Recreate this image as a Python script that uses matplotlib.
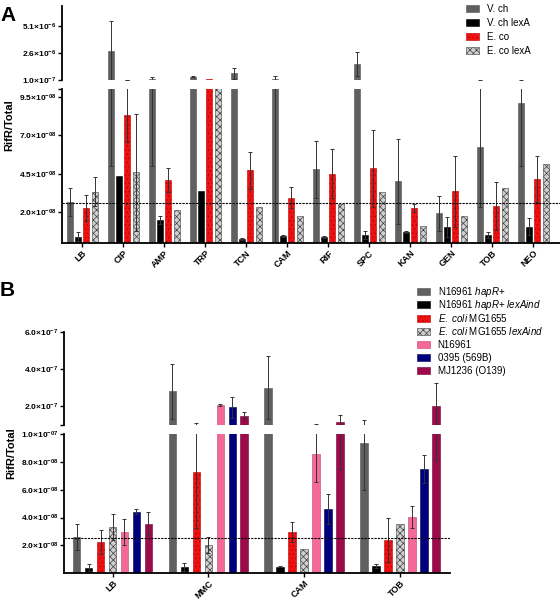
import matplotlib
matplotlib.use('Agg')
import matplotlib.pyplot as plt
import numpy as np
from matplotlib.patches import Patch, Rectangle

plt.rcParams['font.family'] = ['Liberation Sans', 'DejaVu Sans']
plt.rcParams['mathtext.fontset'] = 'custom'
plt.rcParams['mathtext.rm'] = 'Liberation Sans'
plt.rcParams['mathtext.it'] = 'Liberation Sans:italic'
plt.rcParams['mathtext.bf'] = 'Liberation Sans:bold'
plt.rcParams['hatch.linewidth'] = 0.5

# ---- panel A data ----
drugs_a = ['LB', 'CIP', 'AMP', 'TRP', 'TCN', 'CAM', 'RIF', 'SPC', 'KAN', 'GEN', 'TOB', 'NEO']
vch = [2.64e-8, 2.83e-6, 2.2e-7, 4.1e-7, 7.3e-7, 2.2e-7, 4.78e-8, 1.6e-6, 4.0e-8, 1.93e-8, 6.21e-8, 9.09e-8]
vch_err = [0.9e-8, 2.78e-6, 1.7e-7, 0.3e-7, 5.3e-7, 2.3e-7, 1.84e-8, 1.1e-6, 2.75e-8, 1.12e-8, 3.9e-8, 4.1e-8]
vch_lexa = [0.41e-8, 4.35e-8, 1.51e-8, 3.4e-8, 0.26e-8, 0.47e-8, 0.39e-8, 0.5e-8, 0.71e-8, 1.04e-8, 0.52e-8, 1.06e-8]
vch_lexa_err = [0.28e-8, 0, 0.26e-8, 0, 0.05e-8, 0.05e-8, 0.05e-8, 0.26e-8, 0.05e-8, 0.65e-8, 0.17e-8, 0.56e-8]
eco = [2.25e-8, 8.33e-8, 4.09e-8, 2.2e-7, 4.72e-8, 2.94e-8, 4.5e-8, 4.85e-8, 2.29e-8, 3.35e-8, 2.4e-8, 4.15e-8]
eco_err = [0.85e-8, 1.75e-8, 0.8e-8, 0, 1.2e-8, 0.7e-8, 1.6e-8, 2.5e-8, 0.26e-8, 2.3e-8, 1.54e-8, 1.48e-8]
eco_lexa = [3.33e-8, 4.58e-8, 2.14e-8, 1.1e-7, 2.34e-8, 1.77e-8, 2.51e-8, 3.33e-8, 1.12e-8, 1.77e-8, 3.57e-8, 5.13e-8]
eco_lexa_err = [0.93e-8, 3.77e-8, 0, 0, 0, 0, 0, 0, 0, 0, 0, 0]
labels_a = ['V. ch', 'V. ch lexA', 'E. co', 'E. co lexA']
baseline_a = 2.6e-8

# ---- panel B data ----
conds_b = ['LB', 'MMC', 'CAM', 'TOB']
hapr = [2.63e-8, 2.8e-7, 3.0e-7, 9.35e-8]
hapr_err = [0.94e-8, 1.46e-7, 1.67e-7, 3.36e-8]
hapr_lex = [0.4e-8, 0.43e-8, 0.48e-8, 0.52e-8]
hapr_lex_err = [0.27e-8, 0.29e-8, 0.03e-8, 0.13e-8]
mg = [2.23e-8, 7.24e-8, 2.95e-8, 2.39e-8]
mg_err = [0.86e-8, 4.0e-8, 0.72e-8, 1.56e-8]
mg_lex = [3.33e-8, 2.01e-8, 1.75e-8, 3.57e-8]
mg_lex_err = [0.96e-8, 0.58e-8, 0, 0]
n16961 = [2.99e-8, 2.05e-7, 8.58e-8, 4.05e-8]
n16961_err = [0.94e-8, 0.05e-7, 2.06e-8, 0.81e-8]
o395 = [4.43e-8, 1.96e-7, 4.6e-8, 7.5e-8]
o395_err = [0.17e-8, 0.56e-7, 1.08e-8, 0.99e-8]
mj1236 = [3.57e-8, 1.5e-7, 1.15e-7, 2.03e-7]
mj1236_err = [0.82e-8, 0.2e-7, 0.4e-7, 1.22e-7]
labels_b = [r'N16961 $\mathit{hapR}$+', r'N16961 $\mathit{hapR}$+ $\mathit{lexAind}$',
            r'$\mathit{E.\ coli}$ MG1655', r'$\mathit{E.\ coli}$ MG1655 $\mathit{lexAind}$',
            'N16961', '0395 (569B)', 'MJ1236 (O139)']
baseline_b = 2.5e-8

# bar styles
st_gray = dict(facecolor='#606060', edgecolor='#505050', linewidth=0.4)
st_black = dict(facecolor='#000000', edgecolor='#000000', linewidth=0.4)
st_red = dict(facecolor='#ee1111', edgecolor='#c00000', hatch='....', linewidth=0.4)
st_check = dict(facecolor='#d0d0d0', edgecolor='#404040', hatch='xxxxx', linewidth=0.4)
st_pink = dict(facecolor='#f4689a', edgecolor='#c04070', linewidth=0.4)
st_navy = dict(facecolor='#00007f', edgecolor='#000050', linewidth=0.4)
st_maroon = dict(facecolor='#9c0a4c', edgecolor='#700030', linewidth=0.4)

ekw = dict(fmt='none', ecolor='#333333', elinewidth=0.7, capsize=1.5, capthick=0.7)


def fmt(m, e):
    return r'$\mathbf{' + m + r'{\times}10^{' + e + r'}}$'


def draw_bars(ax, x, vals, errs, width, style, lim=None):
    x = np.asarray(x, float)
    v = np.asarray(vals, float)
    e = np.asarray(errs, float)
    if lim is None:
        show_bar = np.ones(len(v), bool)
        show_err = e > 0
    else:
        # upper (broken) segment: only what reaches above the break
        show_bar = v > lim
        show_err = (e > 0) & (v + e > lim)
    ax.bar(x[show_bar], v[show_bar], width, **style)
    if show_err.any():
        ax.errorbar(x[show_err], v[show_err], yerr=e[show_err], **ekw)


def style_axes(ax_top, ax_bot):
    for s in ['top', 'right', 'bottom']:
        ax_top.spines[s].set_visible(False)
    for s in ['top', 'right']:
        ax_bot.spines[s].set_visible(False)
    ax_top.spines['left'].set_linewidth(1.3)
    ax_bot.spines['left'].set_linewidth(1.3)
    ax_bot.spines['bottom'].set_linewidth(1.3)
    ax_top.tick_params(axis='x', bottom=False, labelbottom=False)
    for ax in (ax_top, ax_bot):
        ax.tick_params(axis='y', length=3, width=1, labelsize=6, pad=1)
    ax_bot.tick_params(axis='x', length=3, width=1, labelsize=6.5, pad=1)


fig = plt.figure(figsize=(5.6, 6.0), dpi=100)

# ---------------- panel A ----------------
axA_top = fig.add_axes([0.111, 0.8667, 0.889, 0.1233])
axA_bot = fig.add_axes([0.111, 0.595, 0.889, 0.2567])
xa = np.arange(len(drugs_a))
series_a = [(vch, vch_err, st_gray), (vch_lexa, vch_lexa_err, st_black),
            (eco, eco_err, st_red), (eco_lexa, eco_lexa_err, st_check)]
for i, (v, e, st) in enumerate(series_a):
    draw_bars(axA_top, xa + (i - 1.5) * 0.2, v, e, 0.146, st, lim=1e-7)
    draw_bars(axA_bot, xa + (i - 1.5) * 0.2, v, e, 0.146, st)
for ax in (axA_top, axA_bot):
    ax.set_xlim(-0.49, 11.65)
axA_top.set_ylim(1e-7, 7.0e-6)
axA_bot.set_ylim(0, 1e-7)
axA_top.set_yticks([1e-7, 2.6e-6, 5.1e-6])
axA_top.set_yticklabels([fmt('1.0', '-7'), fmt('2.6', '-6'), fmt('5.1', '-6')])
axA_bot.set_yticks([2e-8, 4.5e-8, 7e-8, 9.5e-8, 1e-7])
axA_bot.set_yticklabels([fmt('2.0', '-08'), fmt('4.5', '-08'), fmt('7.0', '-08'), fmt('9.5', '-08'), ''])
axA_bot.axhline(baseline_a, color='black', ls=(0, (2, 1)), lw=0.8)
style_axes(axA_top, axA_bot)
axA_bot.set_xticks(xa)
axA_bot.set_xticklabels(drugs_a, rotation=45, ha='right', rotation_mode='anchor', fontweight='bold')

handles_a = [Patch(**st) for _, _, st in series_a]
fig.legend(handles_a, labels_a, loc='upper left', bbox_to_anchor=(0.816, 1.008), frameon=False,
           fontsize=7, handlelength=1.35, handleheight=0.72, labelspacing=0.4, handletextpad=0.8)
fig.text(0.016, 1 - 125 / 600, 'RifR/Total', rotation=90, ha='center', va='center', fontsize=8, fontweight='bold')
fig.text(0.0, 0.99, 'A', fontsize=15, fontweight='bold', ha='left', va='top')

# ---------------- panel B ----------------
axB_top = fig.add_axes([0.114, 0.2917, 0.689, 0.1555])
axB_bot = fig.add_axes([0.114, 0.0445, 0.689, 0.2322])
xb = np.arange(len(conds_b))
series_b = [(hapr, hapr_err, st_gray), (hapr_lex, hapr_lex_err, st_black),
            (mg, mg_err, st_red), (mg_lex, mg_lex_err, st_check),
            (n16961, n16961_err, st_pink), (o395, o395_err, st_navy),
            (mj1236, mj1236_err, st_maroon)]
for i, (v, e, st) in enumerate(series_b):
    draw_bars(axB_top, xb + (i - 3) * 0.125, v, e, 0.078, st, lim=1e-7)
    draw_bars(axB_bot, xb + (i - 3) * 0.125, v, e, 0.078, st)
for ax in (axB_top, axB_bot):
    ax.set_xlim(-0.508, 3.52)
axB_top.set_ylim(1e-7, 6e-7)
axB_bot.set_ylim(0, 1e-7)
axB_top.set_yticks([1e-7, 2e-7, 4e-7, 6e-7])
axB_top.set_yticklabels(['', fmt('2.0', '-7'), fmt('4.0', '-7'), fmt('6.0', '-7')])
axB_bot.set_yticks([2e-8, 4e-8, 6e-8, 8e-8, 1e-7])
axB_bot.set_yticklabels([fmt('2.0', '-08'), fmt('4.0', '-08'), fmt('6.0', '-08'), fmt('8.0', '-08'), fmt('1.0', '-07')])
axB_bot.axhline(baseline_b, color='black', ls=(0, (2, 1)), lw=0.8)
style_axes(axB_top, axB_bot)
axB_bot.set_xticks(xb)
axB_bot.set_xticklabels(conds_b, rotation=45, ha='right', rotation_mode='anchor', fontweight='bold', fontsize=6.5)

# legend for B laid out by hand so that the mixed italic labels stay evenly spaced
W, H = 560.0, 600.0
for k, ((_, _, st), lab) in enumerate(zip(series_b, labels_b)):
    yc = 291.7 + k * 13.2
    fig.add_artist(Rectangle((417 / W, 1 - (yc + 3.5) / H), 13 / W, 7 / H,
                             transform=fig.transFigure, **st))
    fig.text(437.5 / W, 1 - (yc + 3.5) / H, lab, fontsize=7, ha='left', va='baseline')

fig.text(0.02, 1 - 453 / 600, 'RifR/Total', rotation=90, ha='center', va='center', fontsize=8, fontweight='bold')
fig.text(0.0, 1 - 281 / 600, 'B', fontsize=15, fontweight='bold', ha='left', va='top')

fig.savefig('out.png', dpi=100)
